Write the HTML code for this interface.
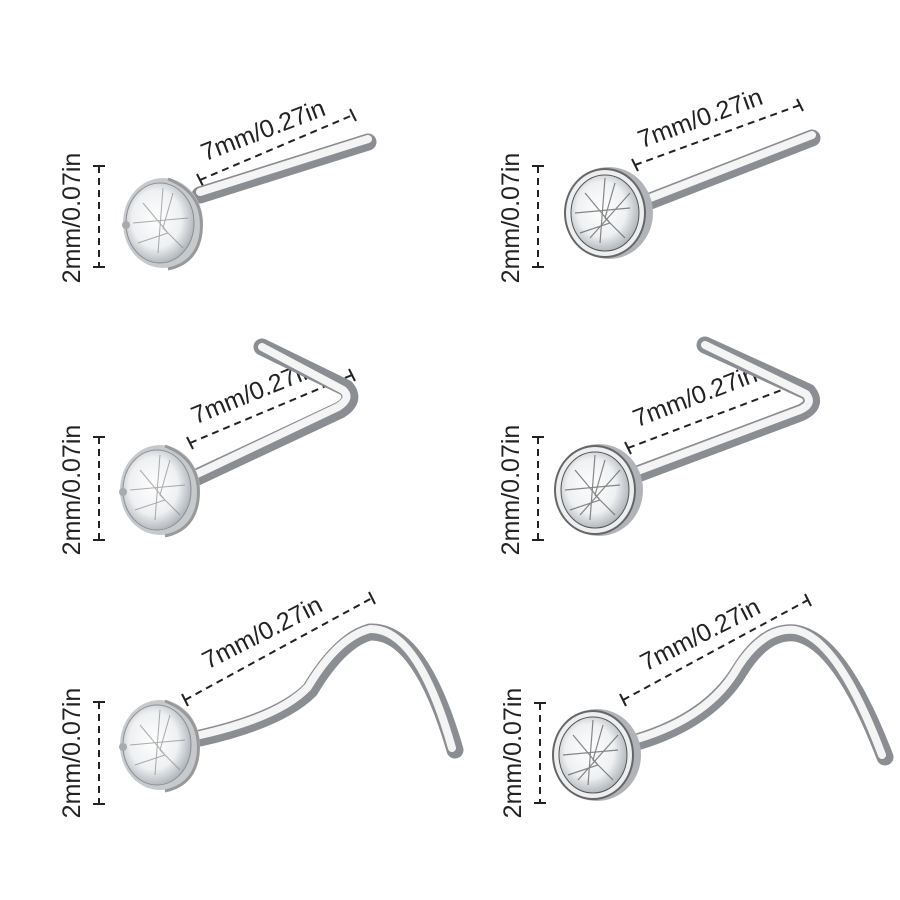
<!DOCTYPE html>
<html><head><meta charset="utf-8"><style>
html,body{margin:0;padding:0;background:#fff;}
svg{display:block}
text{font-family:"Liberation Sans",sans-serif;font-size:25px;fill:#222;}
</style></head><body>
<svg width="900" height="900" viewBox="0 0 900 900">
<defs>
<radialGradient id="gem" cx="0.45" cy="0.45" r="0.6">
<stop offset="0" stop-color="#fff"/><stop offset="0.6" stop-color="#eef0f2"/><stop offset="1" stop-color="#a5abb0"/></radialGradient>
<g id="prong">
<ellipse cx="0" cy="0" rx="40" ry="45" fill="#c7cacd"/>
<ellipse cx="-3" cy="0" rx="34" ry="40" fill="url(#gem)" stroke="#8a8f94" stroke-width="1"/>
<path d="M-20-20L5 10L-25 20M10-30L0 5L20 25M-30 0L25-5M-5 30L0-35" stroke="#777" stroke-width="1" fill="none" opacity="0.6"/>
<circle cx="-37" cy="2" r="4" fill="#aaa"/>
<path d="M5-44Q42-30 38 10Q34 40 5 46" stroke="#999" stroke-width="3" fill="none"/>
</g>
<g id="bezel">
<ellipse cx="4" cy="0" rx="44" ry="46" fill="#b0b4b8"/>
<ellipse cx="0" cy="0" rx="40" ry="44" fill="#eceef0" stroke="#666" stroke-width="2"/>
<ellipse cx="0" cy="0" rx="34" ry="38" fill="url(#gem)" stroke="#555" stroke-width="1"/>
<path d="M-20-20L5 10L-25 20M10-30L0 5L20 25M-30 0L25-5M-5 30L0-35M-15 25L25 -20" stroke="#555" stroke-width="1.2" fill="none" opacity="0.7"/>
</g>
</defs>
<g stroke="#222" stroke-width="2" fill="none">
<path d="M93 166H105M93 267H105M93 437H105M93 540H105M93 702H105M93 804H105M532 166H544M532 267H544M532 437H544M532 540H544M534 703H546M534 803H546"/>
<path d="M99 166V267M99 437V540M99 702V804M538 166V267M538 437V540M540 703V803" stroke-dasharray="7 5"/>
<path d="M200 180L353 115M635 165L800 105M190 443L352 375M628 448L795 385M185 700L372 598M623 700L808 600" stroke-dasharray="7 5"/>
<path d="M197 174L203 186M350 109L356 121M632 159L638 171M797 99L803 111M187 437L193 449M349 369L355 381M625 442L631 454M792 379L798 391M182 694L188 706M369 592L375 604M620 694L626 706M805 594L811 606"/>
</g>
<g text-anchor="middle">
<text transform="translate(80 218) rotate(-90)">2mm/0.07in</text>
<text transform="translate(80 490) rotate(-90)">2mm/0.07in</text>
<text transform="translate(80 753) rotate(-90)">2mm/0.07in</text>
<text transform="translate(519 218) rotate(-90)">2mm/0.07in</text>
<text transform="translate(519 490) rotate(-90)">2mm/0.07in</text>
<text transform="translate(521 753) rotate(-90)">2mm/0.07in</text>
<text transform="translate(266 138) rotate(-21)">7mm/0.27in</text>
<text transform="translate(703 126) rotate(-20)">7mm/0.27in</text>
<text transform="translate(256 400) rotate(-22)">7mm/0.27in</text>
<text transform="translate(698 404) rotate(-21)">7mm/0.27in</text>
<text transform="translate(266 640) rotate(-27)">7mm/0.27in</text>
<text transform="translate(704 642) rotate(-27)">7mm/0.27in</text>
</g>
<g fill="none" stroke-linecap="round" stroke-linejoin="round">
<g stroke="#8a8e92" stroke-width="17">
<path d="M200 195L368 142"/>
<path d="M640 205L812 138"/>
<path d="M195 478L340 410Q356 400 346 388L262 347"/>
<path d="M635 475L800 413Q818 405 808 392L705 345"/>
<path d="M200 738Q280 720 310 690Q340 640 370 632Q420 630 455 750"/>
<path d="M637 742Q710 720 740 670Q765 630 795 633Q840 640 885 757"/>
</g>
<g stroke="#f4f4f4" stroke-width="8">
<path d="M200 192L368 139"/>
<path d="M640 202L812 135"/>
<path d="M195 475L338 407Q352 398 343 390L262 347"/>
<path d="M635 472L800 410Q814 404 806 394L705 345"/>
<path d="M200 735Q280 717 308 687Q338 637 370 629Q418 628 452 748"/>
<path d="M637 739Q710 717 738 667Q764 627 795 630Q838 638 882 755"/>
</g>
</g>
<use href="#prong" x="163" y="223"/>
<use href="#bezel" x="605" y="213"/>
<use href="#prong" x="160" y="490"/>
<use href="#bezel" x="595" y="490"/>
<use href="#prong" x="160" y="745"/>
<use href="#bezel" x="593" y="755"/>
</svg>
</body></html>
